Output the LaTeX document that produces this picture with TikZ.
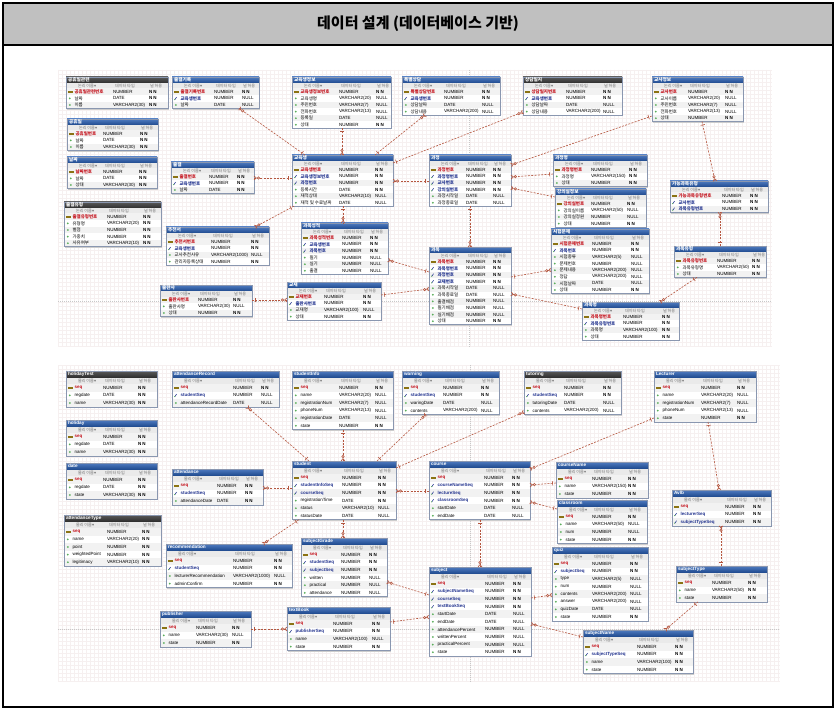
\documentclass[tikz,border=0pt]{standalone}
\usepackage{fontspec}
\setmainfont{Liberation Sans}
\newfontfamily\krf{Noto Sans CJK KR}
\newfontfamily\djf{DejaVu Sans}
\usetikzlibrary{calc}
\definecolor{hdrtop}{HTML}{4F7BC0}
\definecolor{hdrbot}{HTML}{1F4A8E}
\definecolor{drktop}{HTML}{5A5A5A}
\definecolor{drkbot}{HTML}{2E2E2E}
\definecolor{tblborder}{HTML}{8A97B0}
\definecolor{rowalt}{HTML}{F2F2F2}
\definecolor{colhdr}{HTML}{EAEAEA}
\definecolor{pkred}{HTML}{C4121C}
\definecolor{fkblue}{HTML}{23348F}
\definecolor{relc}{HTML}{B5563F}
\definecolor{gridc}{HTML}{F6F0F0}
\definecolor{titlegray}{HTML}{C0C0C0}
\definecolor{keyyel}{HTML}{E8C020}
\definecolor{dotgreen}{HTML}{5AAE5A}
\definecolor{pagebrk}{HTML}{C8C8C8}
\tikzset{
 hb/.style={top color=hdrtop, bottom color=hdrbot},
 hd/.style={top color=drktop, bottom color=drkbot},
 rtxt/.style={inner sep=0pt, outer sep=0pt, anchor=west, font=\fontsize{4.5}{5}\selectfont},
 htxt/.style={inner sep=0pt, outer sep=0pt, anchor=west, text=black!55, font=\fontsize{4.1}{5}\selectfont},
 ttxt/.style={inner sep=0pt, outer sep=0pt, anchor=west, text=white, font=\bfseries\fontsize{4.7}{5}\selectfont},
 rel/.style={draw=relc, line width=0.6pt, dash pattern=on 2pt off 1.3pt},
 relmark/.style={draw=relc, line width=0.6pt},
 pgbrk/.style={draw=pagebrk, line width=0.4pt, dash pattern=on 1pt off 1pt},
 gridln/.style={draw=gridc, line width=0.2pt},
}
\newcount\rcnt
\def\ThT{6}\def\ChT{5.5}\def\RhT{6.6}
\def\namefont{\krf}
\def\colname{논리 이름}
\newcommand\erd[9]{%
 \global\rcnt=0
 \foreach \q in {#9}{\global\advance\rcnt by 1}%
 \pgfmathsetmacro\tblh{\ThT+\ChT+\the\rcnt*\RhT}%
 \fill[black!20] (#2+1.3,#3+1.3) rectangle (#2+#4+1.3,#3+\tblh+1.3);
 \fill[white] (#2,#3) rectangle (#2+#4,#3+\tblh);
 \shade[#6] (#2,#3) rectangle (#2+#4,#3+\ThT);
 \fill[colhdr] (#2,#3+\ThT) rectangle (#2+#4,#3+\ThT+\ChT);
 \foreach [count=\i] \ka/\na/\ta/\ua in {#9}{%
  \pgfmathsetmacro\yy{#3+\ThT+\ChT+(\i-1)*\RhT}%
  \pgfmathsetmacro\yc{\yy+\RhT/2}%
  \ifodd\i\relax\fill[rowalt] (#2,\yy) rectangle (#2+#4,\yy+\RhT);\fi
  \if\ka p%
    \filldraw[fill=keyyel, draw=keyyel!60!black, line width=0.15pt] (#2+2,\yc-0.6) rectangle (#2+5.6,\yc+0.6);
    \def\nst{\color{pkred}\bfseries}%
  \else\if\ka f%
    \draw[fkblue, line width=0.55pt] (#2+2.8,\yc+1.3) -- (#2+4.6,\yc-1.3);
    \fill[dotgreen] (#2+2.6,\yc+1.2) circle (0.6pt);
    \def\nst{\color{fkblue}\bfseries}%
  \else
    \fill[dotgreen] (#2+3.8,\yc) circle (1pt);
    \def\nst{}%
  \fi\fi
  \node[rtxt] (#1-n\i) at (#2+8.5,\yc) {\namefont\nst\na};
  \node[rtxt] (#1-t\i) at (#2+#7,\yc) {\ta};
  \node[rtxt] (#1-u\i) at (#2+#8,\yc) {\if\ua N\textbf{N N}\else NULL\fi};
 }
 \node[draw=tblborder, line width=0.5pt, inner sep=0pt, outer sep=0pt, anchor=north west, minimum width=#4pt, minimum height=\tblh pt] (#1) at (#2,#3) {};
 \node[ttxt] (#1-title) at (#2+2,#3+\ThT/2) {\namefont #5};
 \node[htxt] (#1-h1) at (#2+12,#3+\ThT+\ChT/2) {\krf\colname{\djf ▾}};
 \node[htxt] (#1-h2) at (#2+#7+2,#3+\ThT+\ChT/2) {\krf 데이터 타입};
 \node[htxt] (#1-h3) at (#2+#8+1,#3+\ThT+\ChT/2) {\krf 널 허용};
}
\newcommand\rel[3]{%
 \coordinate (#1a) at #2;
 \coordinate (#1b) at #3;
 \draw[rel] (#1a) -- (#1b);
 \draw[relmark] ($(#1a)!3.5pt!(#1b)!2.2pt!90:(#1b)$) -- ($(#1a)!3.5pt!(#1b)!2.2pt!-90:(#1b)$);
 \draw[relmark] ($(#1b)!2.4pt!(#1a)$) -- ($(#1b)!2pt!90:(#1a)$) ($(#1b)!2.4pt!(#1a)$) -- ($(#1b)!2pt!-90:(#1a)$);
 \draw[relmark, fill=white] ($(#1b)!4.4pt!(#1a)$) circle (1.2pt);
}
\begin{document}
\begin{tikzpicture}[x=1pt,y=-1pt]
\useasboundingbox (0,0) rectangle (837,711);
\fill[white] (0,0) rectangle (837,711);
% frame and title
\fill[titlegray] (3,3) rectangle (833,45);
\draw[line width=1.3pt] (3,3) rectangle (833,707);
\draw[line width=1.3pt] (3,45) -- (833,45);
\node[font=\krf\bfseries\fontsize{15}{18}\selectfont] (title) at (418,24) {데이터 설계 (데이터베이스 기반)};
% canvas grids
\draw[gridln] \foreach \gx in {58,62,...,770} {(\gx,70) -- (\gx,347)};
\draw[gridln] \foreach \gy in {70,74,...,346} {(58,\gy) -- (772,\gy)};
\draw[gridln] \foreach \gx in {58,62,...,778} {(\gx,365) -- (\gx,682)};
\draw[gridln] \foreach \gy in {365,369,...,681} {(58,\gy) -- (780,\gy)};
\draw[pgbrk] (469,70) -- (469,347) (58,301) -- (772,301);
\draw[pgbrk] (470,365) -- (470,682) (58,629) -- (780,629);
% ================= TOP PANEL (Korean) =================
\erd{kA}{66}{77}{102}{공휴일관련}{hd}{47}{83}{p/공휴일관련번호/NUMBER/N, n/날짜/DATE/N, n/이름/VARCHAR2(30)/N}
\erd{kB}{172}{77}{87}{출결기록}{hb}{42}{70}{p/출결기록번호/NUMBER/N, f/교육생번호/NUMBER/U, n/날짜/DATE/U}
\erd{kC}{67}{119}{91}{공휴일}{hb}{36}{73}{p/공휴일번호/NUMBER/N, n/날짜/DATE/N, n/이름/VARCHAR2(30)/N}
\erd{kD}{67}{157}{90}{날짜}{hb}{36}{72}{p/날짜번호/NUMBER/N, n/날짜/DATE/N, n/상태/VARCHAR2(30)/N}
\erd{kE}{64}{202}{97}{출결유형}{hd}{43}{79}{p/출결유형번호/NUMBER/N, n/유형명/VARCHAR2(20)/N, n/벌점/NUMBER/N, n/가중치/NUMBER/N, n/사유여부/VARCHAR2(10)/N}
\erd{kF}{171}{162}{83}{출결}{hb}{38}{66}{p/출결번호/NUMBER/N, f/교육생번호/NUMBER/N, n/날짜/DATE/N}
\erd{kG}{166}{227}{103}{추천서}{hb}{45}{85}{p/추천서번호/NUMBER/N, f/교육생번호/NUMBER/N, n/교사추천사유/VARCHAR2(1000)/U, n/관리자등록상태/NUMBER/N}
\erd{kH}{160}{285}{92}{출판사}{hb}{38}{73}{p/출판사번호/NUMBER/N, n/출판사명/VARCHAR2(30)/U, n/상태/NUMBER/N}
\erd{kI}{292}{77}{99}{교육생정보}{hb}{47}{84}{p/교육생정보번호/NUMBER/N, n/교육생명/VARCHAR2(20)/U, n/주민번호/VARCHAR2(7)/U, n/전화번호/VARCHAR2(13)/U, n/등록일/DATE/U, n/상태/NUMBER/N}
\erd{kJ}{292}{155}{101}{교육생}{hb}{47}{83}{p/교육생번호/NUMBER/N, f/교육생정보번호/NUMBER/N, f/과정번호/NUMBER/N, n/등록시간/DATE/N, n/재적상태/VARCHAR2(10)/U, n/재적 및 수료날짜/DATE/U}
\erd{kK}{402}{77}{98}{특별상담}{hb}{42}{80}{p/특별상담번호/NUMBER/N, f/교육생번호/NUMBER/N, n/상담날짜/DATE/U, n/상담내용/VARCHAR2(200)/U}
\erd{kL}{523}{77}{99}{상담일지}{hd}{43}{80}{p/상담일지번호/NUMBER/N, f/교육생번호/NUMBER/N, n/상담날짜/DATE/U, n/상담내용/VARCHAR2(200)/U}
\erd{kM}{652}{77}{91}{교사정보}{hb}{36}{73}{p/교사번호/NUMBER/N, n/교사이름/VARCHAR2(20)/U, n/주민번호/VARCHAR2(7)/U, n/전화번호/VARCHAR2(13)/U, n/상태/NUMBER/N}
\erd{kN}{429}{155}{82}{과정}{hb}{37}{64}{p/과정번호/NUMBER/N, f/과정명번호/NUMBER/N, f/교사번호/NUMBER/N, f/강의실번호/NUMBER/N, n/과정시작일/DATE/U, n/과정종료일/DATE/U}
\erd{kO}{301}{223}{87}{과목성적}{hb}{41}{69}{p/과목성적번호/NUMBER/N, f/교육생번호/NUMBER/N, f/과목번호/NUMBER/N, n/필기/NUMBER/U, n/실기/NUMBER/U, n/출결/NUMBER/U}
\erd{kP}{287}{282}{94}{교재}{hb}{37}{76}{p/교재번호/NUMBER/N, f/출판사번호/NUMBER/N, n/교재명/VARCHAR2(100)/U, n/상태/NUMBER/N}
\erd{kQ}{429}{247}{82}{과목}{hb}{37}{64}{p/과목번호/NUMBER/N, f/과목명번호/NUMBER/N, f/과정번호/NUMBER/N, f/교재번호/NUMBER/N, n/과목시작일/DATE/U, n/과목종료일/DATE/U, n/출결배점/NUMBER/U, n/필기배점/NUMBER/U, n/실기배점/NUMBER/U, n/상태/NUMBER/N}
\erd{kR}{553}{155}{94}{과정명}{hb}{38}{76}{p/과정명번호/NUMBER/N, n/과정명/VARCHAR2(150)/N, n/상태/NUMBER/N}
\erd{kS}{555}{189}{91}{강의실정보}{hb}{36}{72}{p/강의실번호/NUMBER/N, n/강의실이름/VARCHAR2(50)/U, n/강의실정원/NUMBER/U, n/상태/NUMBER/N}
\erd{kT}{551}{229}{98}{시험문제}{hb}{41}{80}{p/시험문제번호/NUMBER/N, f/과목번호/NUMBER/N, n/시험종류/VARCHAR2(5)/U, n/문제번호/NUMBER/U, n/문제내용/VARCHAR2(200)/U, n/정답/VARCHAR2(200)/U, n/시험날짜/DATE/U, n/상태/NUMBER/N}
\erd{kU}{670}{181}{98}{가능과목유형}{hb}{52}{80}{p/가능과목유형번호/NUMBER/N, f/교사번호/NUMBER/N, f/과목유형번호/NUMBER/N}
\erd{kV}{674}{246}{92}{과목유형}{hb}{43}{78}{p/과목유형번호/NUMBER/N, n/과목유형명/VARCHAR2(50)/N, n/상태/NUMBER/N}
\erd{kW}{582}{302}{97}{과목명}{hb}{41}{80}{p/과목명번호/NUMBER/N, f/과목유형번호/NUMBER/N, n/과목명/VARCHAR2(100)/N, n/상태/NUMBER/N}
% top relations (parent end first, child end second)
\rel{r1}{($(kJ.north west)+(13,0)$)}{($(kB.south west)+(67,0)$)}
\rel{r2}{($(kI.south west)+(50,0)$)}{($(kJ.north west)+(50,0)$)}
\rel{r3}{($(kJ.north west)+(83,0)$)}{($(kK.south west)+(23,0)$)}
\rel{r4}{($(kJ.north east)+(0,8)$)}{($(kL.north west)+(0,35)$)}
\rel{r5}{($(kM.north west)+(0,39)$)}{($(kN.north east)+(0,10)$)}
\rel{r6}{($(kR.north west)+(0,19)$)}{($(kN.north east)+(0,22)$)}
\rel{r7}{($(kS.north west)+(0,8)$)}{($(kN.north east)+(0,33)$)}
\rel{r8}{($(kN.south west)+(41,0)$)}{($(kQ.north west)+(41,0)$)}
\rel{r9}{($(kN.north west)+(0,26)$)}{($(kJ.north east)+(0,26)$)}
\rel{r10}{($(kJ.north west)+(0,23)$)}{($(kF.north east)+(0,16)$)}
\rel{r11}{($(kJ.south west)+(2,0)$)}{($(kG.north west)+(89,0)$)}
\rel{r12}{($(kJ.south west)+(51,0)$)}{($(kO.north west)+(42,0)$)}
\rel{r13}{($(kQ.north west)+(0,25)$)}{($(kO.north east)+(0,37)$)}
\rel{r14}{($(kP.north east)+(0,13)$)}{($(kQ.north west)+(0,42)$)}
\rel{r15}{($(kH.north east)+(0,15)$)}{($(kP.north west)+(0,18)$)}
\rel{r16}{($(kQ.north east)+(0,30)$)}{($(kT.north west)+(0,41)$)}
\rel{r17}{($(kW.north west)+(0,7)$)}{($(kQ.north east)+(0,47)$)}
\rel{r18}{($(kV.south west)+(23,0)$)}{($(kW.north west)+(78,0)$)}
\rel{r19}{($(kV.north west)+(46,0)$)}{($(kU.south west)+(50,0)$)}
\rel{r20}{($(kM.south west)+(50,0)$)}{($(kU.north west)+(45,0)$)}
% ================= BOTTOM PANEL (English) =================
\def\ThT{6.5}\def\ChT{6.5}\def\RhT{7.6}
\def\namefont{}
\def\colname{물리 이름}
\erd{holidayTest}{66}{371}{91}{holidayTest}{hd}{37}{72}{p/seq/NUMBER/N, n/regdate/DATE/N, n/name/VARCHAR2(30)/N}
\erd{holiday}{66}{420}{91}{holiday}{hb}{37}{72}{p/seq/NUMBER/N, n/regdate/DATE/N, n/name/VARCHAR2(30)/N}
\erd{date}{66}{463}{91}{date}{hb}{37}{72}{p/seq/NUMBER/N, n/regdate/DATE/N, n/state/VARCHAR2(30)/N}
\erd{attendanceType}{64}{515}{97}{attendanceType}{hd}{43}{78}{p/seq/NUMBER/N, n/name/VARCHAR2(20)/N, n/point/NUMBER/N, n/weightedPoint/NUMBER/N, n/legitimacy/VARCHAR2(10)/N}
\erd{attendanceRecord}{172}{371}{107}{attendanceRecord}{hb}{61}{89}{p/seq/NUMBER/N, f/studentSeq/NUMBER/U, n/attendanceRecordDate/DATE/U}
\erd{attendance}{172}{469}{91}{attendance}{hb}{45}{73}{p/seq/NUMBER/N, f/studentSeq/NUMBER/N, n/attendanceDate/DATE/N}
\erd{studentInfo}{292}{371}{101}{studentInfo}{hb}{47}{83}{p/seq/NUMBER/N, n/name/VARCHAR2(20)/U, n/registrationNum/VARCHAR2(7)/U, n/phoneNum/VARCHAR2(13)/U, n/registrationDate/DATE/U, n/state/NUMBER/N}
\erd{student}{292}{461}{104}{student}{hb}{50}{86}{p/seq/NUMBER/N, f/studentInfoSeq/NUMBER/N, f/courseSeq/NUMBER/N, n/registrationTime/DATE/N, n/status/VARCHAR2(10)/U, n/statusDate/DATE/U}
\erd{warning}{402}{371}{97}{warning}{hb}{41}{79}{p/seq/NUMBER/N, f/studentSeq/NUMBER/N, n/waringDate/DATE/U, n/contents/VARCHAR2(200)/U}
\erd{tutoring}{524}{371}{97}{tutoring}{hd}{40}{79}{p/seq/NUMBER/N, f/studentSeq/NUMBER/N, n/tutoringDate/DATE/U, n/contents/VARCHAR2(200)/U}
\erd{Lecturer}{654}{371}{102}{Lecturer}{hb}{47}{83}{p/seq/NUMBER/N, n/name/VARCHAR2(20)/U, n/registrationNum/VARCHAR2(7)/U, n/phoneNum/VARCHAR2(13)/U, n/state/NUMBER/N}
\erd{course}{429}{461}{101}{course}{hb}{55}{83}{p/seq/NUMBER/N, f/courseNameSeq/NUMBER/N, f/lectureSeq/NUMBER/N, f/classroomSeq/NUMBER/N, n/startDate/DATE/U, n/endDate/DATE/U}
\erd{courseName}{556}{462}{92}{courseName}{hb}{36}{72}{p/seq/NUMBER/N, n/name/VARCHAR2(150)/N, n/state/NUMBER/N}
\erd{classroom}{557}{500}{90}{classroom}{hb}{35}{71}{p/seq/NUMBER/N, n/name/VARCHAR2(50)/U, n/num/NUMBER/U, n/state/NUMBER/N}
\erd{Avlb}{672}{490}{99}{Avlb}{hb}{53}{81}{p/seq/NUMBER/N, f/lecturerSeq/NUMBER/N, f/subjectTypeSeq/NUMBER/N}
\erd{subjectType}{676}{566}{91}{subjectType}{hb}{36}{72}{p/seq/NUMBER/N, n/name/VARCHAR2(50)/N, n/state/NUMBER/N}
\erd{quiz}{552}{547}{96}{quiz}{hb}{40}{78}{p/seq/NUMBER/N, f/subjectSeq/NUMBER/N, n/type/VARCHAR2(5)/U, n/num/NUMBER/U, n/contents/VARCHAR2(200)/U, n/answer/VARCHAR2(200)/U, n/quizDate/DATE/U, n/state/NUMBER/N}
\erd{subject}{429}{567}{102}{subject}{hb}{56}{84}{p/seq/NUMBER/N, f/subjectNameSeq/NUMBER/N, f/courseSeq/NUMBER/N, f/textBookSeq/NUMBER/N, n/startDate/DATE/U, n/endDate/DATE/U, n/attendancePercent/NUMBER/U, n/writtenPercent/NUMBER/U, n/practicalPercent/NUMBER/U, n/state/NUMBER/N}
\erd{subjectName}{583}{630}{110}{subjectName}{hb}{54}{92}{p/seq/NUMBER/N, f/subjectTypeSeq/NUMBER/N, n/name/VARCHAR2(100)/N, n/state/NUMBER/N}
\erd{recommendation}{166}{544}{126}{recommendation}{hb}{67}{108}{p/seq/NUMBER/N, f/studentSeq/NUMBER/N, n/lecturerRecommendation/VARCHAR2(1000)/U, n/adminConfirm/NUMBER/N}
\erd{subjectGrade}{301}{538}{86}{subjectGrade}{hb}{40}{68}{p/seq/NUMBER/N, f/studentSeq/NUMBER/N, f/subjectSeq/NUMBER/N, n/written/NUMBER/U, n/practical/NUMBER/U, n/attendance/NUMBER/U}
\erd{publisher}{160}{611}{91}{publisher}{hb}{36}{72}{p/seq/NUMBER/N, n/name/VARCHAR2(30)/U, n/state/NUMBER/N}
\erd{textBook}{287}{607}{103}{textBook}{hb}{46}{85}{p/seq/NUMBER/N, f/publisherSeq/NUMBER/N, n/name/VARCHAR2(100)/U, n/state/NUMBER/N}
% bottom relations
\rel{s1}{($(student.north west)+(17,0)$)}{($(attendanceRecord.south west)+(75,0)$)}
\rel{s2}{($(student.north west)+(0,27)$)}{($(attendance.north east)+(0,19)$)}
\rel{s3}{($(studentInfo.south west)+(51,0)$)}{($(student.north west)+(51,0)$)}
\rel{s4}{($(student.north west)+(85,0)$)}{($(warning.south west)+(24,0)$)}
\rel{s5}{($(student.north east)+(0,7)$)}{($(tutoring.north west)+(0,41)$)}
\rel{s6}{($(Lecturer.north west)+(0,47)$)}{($(course.north east)+(0,8)$)}
\rel{s7}{($(courseName.north west)+(0,21)$)}{($(course.north east)+(0,24)$)}
\rel{s8}{($(classroom.north west)+(0,9)$)}{($(course.north east)+(0,41)$)}
\rel{s9}{($(course.south west)+(51,0)$)}{($(subject.north west)+(51,0)$)}
\rel{s10}{($(student.south west)+(7,0)$)}{($(recommendation.north west)+(97,0)$)}
\rel{s11}{($(student.south west)+(51,0)$)}{($(subjectGrade.north west)+(42,0)$)}
\rel{s12}{($(subject.north west)+(0,28)$)}{($(subjectGrade.north east)+(0,44)$)}
\rel{s13}{($(textBook.north east)+(0,15)$)}{($(subject.north west)+(0,50)$)}
\rel{s14}{($(publisher.north east)+(0,18)$)}{($(textBook.north west)+(0,22)$)}
\rel{s15}{($(subject.north east)+(0,31)$)}{($(quiz.north west)+(0,48)$)}
\rel{s16}{($(subjectName.north west)+(0,7)$)}{($(subject.north east)+(0,57)$)}
\rel{s17}{($(subjectType.south west)+(22,0)$)}{($(subjectName.north west)+(82,0)$)}
\rel{s18}{($(subjectType.north west)+(45,0)$)}{($(Avlb.south west)+(49,0)$)}
\rel{s19}{($(Lecturer.south west)+(54,0)$)}{($(Avlb.north west)+(47,0)$)}
\rel{s20}{($(course.north west)+(0,30)$)}{($(student.north east)+(0,30)$)}
\end{tikzpicture}
\end{document}
